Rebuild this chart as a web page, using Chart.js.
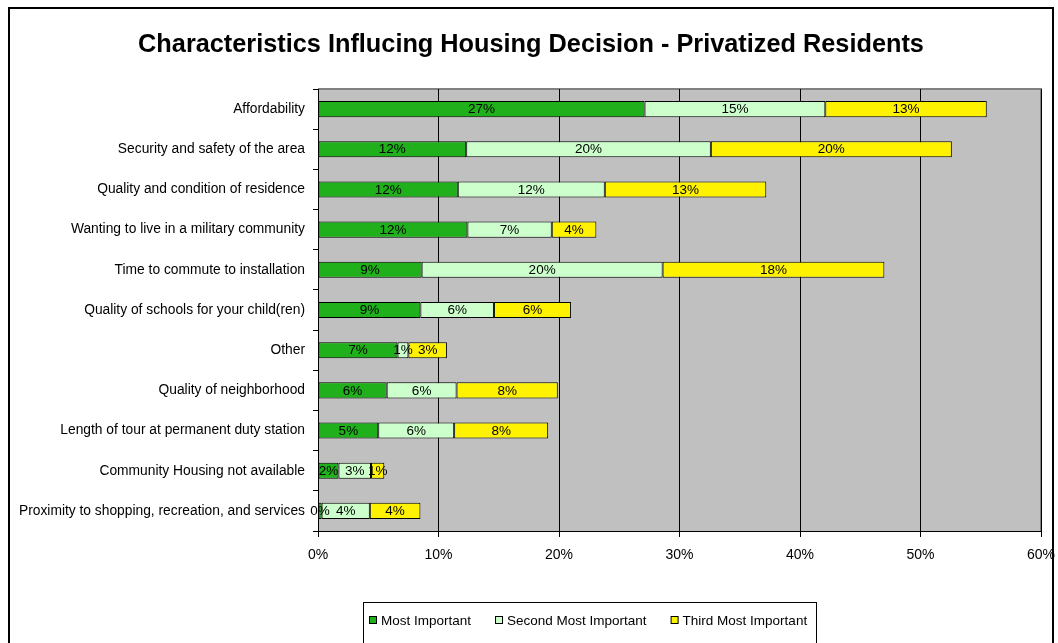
<!DOCTYPE html>
<html>
<head>
<meta charset="utf-8">
<script src="https://cdn.jsdelivr.net/npm/chart.js@4/dist/chart.umd.min.js"></script>
<style>
  html, body { margin: 0; padding: 0; background: #fff; }
  #wrap { width: 1058px; height: 643px; position: relative; }
</style>
</head>
<body>
<div id="wrap"><canvas id="c" width="1058" height="643"></canvas></div>
<script>
const chartTitle = 'Characteristics Influcing Housing Decision - Privatized Residents';

const categories = [
  'Affordability',
  'Security and safety of the area',
  'Quality and condition of residence',
  'Wanting to live in a military community',
  'Time to commute to installation',
  'Quality of schools for your child(ren)',
  'Other',
  'Quality of neighborhood',
  'Length of tour at permanent duty station',
  'Community Housing not available',
  'Proximity to shopping, recreation, and services'
];

const seriesNames = ['Most Important', 'Second Most Important', 'Third Most Important'];

// percent of respondents
const mostImportant   = [27.1, 12.3, 11.6, 12.4, 8.6, 8.5, 6.6, 5.7, 5.0, 1.7, 0.3];
const secondImportant = [15.0, 20.3, 12.2, 7.0, 20.0, 6.1, 0.9, 5.8, 6.3, 2.7, 4.0];
const thirdImportant  = [13.4, 20.0, 13.4, 3.7, 18.4, 6.4, 3.2, 8.4, 7.8, 1.1, 4.2];

const xTicks = [0, 10, 20, 30, 40, 50, 60];

const seriesColors = ['#1fb01b', '#ccffcc', '#fff200'];
const FONT = '"Liberation Sans", Arial, sans-serif';

const frame = {
  id: 'frame',
  beforeDraw(chart) {
    const ctx = chart.ctx, a = chart.chartArea;
    ctx.save();
    ctx.fillStyle = '#fff';
    ctx.fillRect(0, 0, chart.width, chart.height);
    // outer chart border
    ctx.strokeStyle = '#000';
    ctx.lineWidth = 2;
    ctx.strokeRect(9, 8, 1044, 660);
    // plot area
    ctx.fillStyle = '#c0c0c0';
    ctx.fillRect(a.left, a.top, a.right - a.left, a.bottom - a.top);
    ctx.strokeStyle = '#808080';
    ctx.lineWidth = 2;
    ctx.beginPath();
    ctx.moveTo(a.left, a.top);
    ctx.lineTo(a.right, a.top);
    ctx.lineTo(a.right, a.bottom);
    ctx.stroke();
    // title
    ctx.fillStyle = '#000';
    ctx.font = 'bold 25.3px ' + FONT;
    ctx.textAlign = 'center';
    ctx.textBaseline = 'middle';
    ctx.fillText(chartTitle, 531, 45);
    ctx.restore();
  },
  afterDatasetsDraw(chart) {
    const ctx = chart.ctx;
    ctx.save();
    ctx.font = '13.5px ' + FONT;
    ctx.fillStyle = '#000';
    ctx.textAlign = 'center';
    ctx.textBaseline = 'middle';
    chart.data.datasets.forEach((ds, i) => {
      const meta = chart.getDatasetMeta(i);
      meta.data.forEach((el, j) => {
        const p = el.getProps(['x', 'y', 'base'], true);
        ctx.fillText(Math.round(ds.data[j]) + '%', (p.x + p.base) / 2, p.y + 0.5);
      });
    });
    ctx.restore();
  },
  afterDraw(chart) {
    const ctx = chart.ctx;
    ctx.save();
    // legend box
    ctx.strokeStyle = '#000';
    ctx.lineWidth = 1;
    ctx.strokeRect(363.5, 602.5, 453, 60);
    ctx.font = '13.5px ' + FONT;
    ctx.textBaseline = 'middle';
    ctx.textAlign = 'left';
    let x = 369;
    const y = 621;
    chart.data.datasets.forEach(ds => {
      ctx.fillStyle = ds.backgroundColor;
      ctx.fillRect(x + 0.5, y - 4.5, 7, 7);
      ctx.strokeStyle = '#000';
      ctx.strokeRect(x + 0.5, y - 4.5, 7, 7);
      ctx.fillStyle = '#000';
      ctx.fillText(ds.label, x + 12, y);
      x += 12 + ctx.measureText(ds.label).width + 24;
    });
    ctx.restore();
  }
};

new Chart(document.getElementById('c'), {
  type: 'bar',
  data: {
    labels: categories,
    datasets: [
      { label: seriesNames[0], data: mostImportant,   backgroundColor: seriesColors[0] },
      { label: seriesNames[1], data: secondImportant, backgroundColor: seriesColors[1] },
      { label: seriesNames[2], data: thirdImportant,  backgroundColor: seriesColors[2] }
    ].map(d => Object.assign(d, {
      borderColor: '#000', borderWidth: 1, borderSkipped: false,
      categoryPercentage: 0.4, barPercentage: 1
    }))
  },
  options: {
    indexAxis: 'y',
    responsive: false,
    animation: false,
    events: [],
    layout: { padding: { top: 89, right: 17, bottom: 0, left: 0 } },
    plugins: { legend: { display: false }, title: { display: false }, tooltip: { enabled: false } },
    scales: {
      x: {
        stacked: true, min: 0, max: 60,
        afterBuildTicks(s) { s.ticks = xTicks.map(v => ({ value: v })); },
        afterFit(s) { s.height = 112; s.paddingRight = 0; s.paddingLeft = 0; },
        ticks: { callback: v => v + '%', color: '#000', padding: 10, font: { family: FONT, size: 14 } },
        grid: { color: '#000', lineWidth: 1, tickLength: 6 },
        border: { color: '#000', width: 1 }
      },
      y: {
        stacked: true, offset: true,
        afterFit(s) { s.width = 318; s.paddingTop = 0; s.paddingBottom = 0; },
        ticks: { color: '#000', padding: 8, font: { family: FONT, size: 13.8 } },
        grid: { offset: true, drawOnChartArea: false, color: '#000', tickLength: 5 },
        border: { color: '#000', width: 1 }
      }
    }
  },
  plugins: [frame]
});
</script>
</body>
</html>
